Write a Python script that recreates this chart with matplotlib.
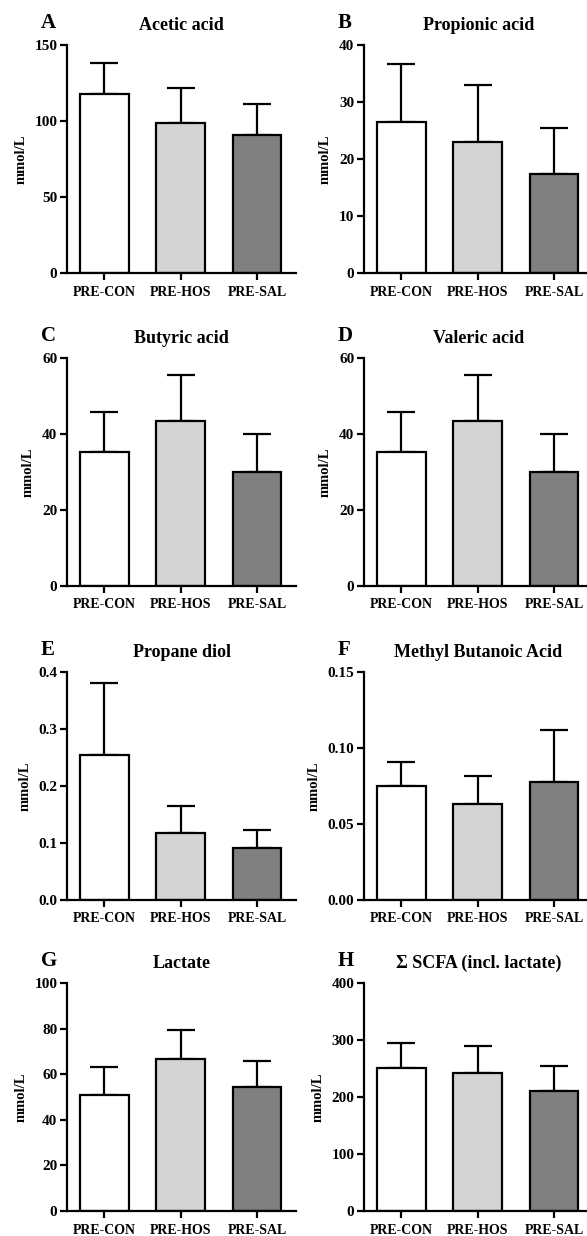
import matplotlib.pyplot as plt
import numpy as np

plt.rcParams['font.family'] = ['Liberation Serif', 'DejaVu Serif']
plt.rcParams['font.weight'] = 'bold'

groups = ['PRE-CON', 'PRE-HOS', 'PRE-SAL']
colors = ['#ffffff', '#d4d4d4', '#808080']

letters = ['A', 'B', 'C', 'D', 'E', 'F', 'G', 'H']
titles = ['Acetic acid', 'Propionic acid', 'Butyric acid', 'Valeric acid',
          'Propane diol', 'Methyl Butanoic Acid', 'Lactate', '\u03a3 SCFA (incl. lactate)']

acetic_mean = [117.5, 98.8, 90.5]
acetic_sd = [20.5, 23.0, 21.0]
propionic_mean = [26.5, 23.0, 17.3]
propionic_sd = [10.2, 9.9, 8.2]
butyric_mean = [35.2, 43.5, 30.0]
butyric_sd = [10.5, 12.0, 10.0]
valeric_mean = [35.2, 43.5, 30.0]
valeric_sd = [10.5, 12.0, 10.0]
propanediol_mean = [0.254, 0.117, 0.091]
propanediol_sd = [0.126, 0.048, 0.031]
methylbut_mean = [0.075, 0.063, 0.0775]
methylbut_sd = [0.016, 0.0185, 0.0345]
lactate_mean = [51.0, 66.8, 54.2]
lactate_sd = [12.3, 12.7, 11.6]
scfa_mean = [250.6, 241.3, 211.0]
scfa_sd = [44.7, 48.2, 43.6]

means = [acetic_mean, propionic_mean, butyric_mean, valeric_mean,
         propanediol_mean, methylbut_mean, lactate_mean, scfa_mean]
sds = [acetic_sd, propionic_sd, butyric_sd, valeric_sd,
       propanediol_sd, methylbut_sd, lactate_sd, scfa_sd]

yticks = [
    [0, 50, 100, 150],
    [0, 10, 20, 30, 40],
    [0, 20, 40, 60],
    [0, 20, 40, 60],
    [0.0, 0.1, 0.2, 0.3, 0.4],
    [0.00, 0.05, 0.10, 0.15],
    [0, 20, 40, 60, 80, 100],
    [0, 100, 200, 300, 400],
]
yfmt = ['{:.0f}', '{:.0f}', '{:.0f}', '{:.0f}', '{:.1f}', '{:.2f}', '{:.0f}', '{:.0f}']

W, H = 587, 1236
fig = plt.figure(figsize=(W / 100, H / 100), dpi=100)

col_left = [67, 364]
ax_w = 229
row_top = [45, 358, 672, 983]
ax_h = 228

x = np.arange(3)
for i in range(8):
    r, c = i // 2, i % 2
    left = col_left[c] / W
    bottom = 1 - (row_top[r] + ax_h) / H
    ax = fig.add_axes([left, bottom, ax_w / W, ax_h / H])

    ax.errorbar(x, means[i], yerr=[np.zeros(3), sds[i]], fmt='none', ecolor='black',
                elinewidth=1.6, capsize=10, capthick=1.6, zorder=1)
    ax.bar(x, means[i], width=0.64, color=colors, edgecolor='black', linewidth=1.6, zorder=2)

    ax.set_xlim(-0.49, 2.51)
    ax.set_ylim(yticks[i][0], yticks[i][-1])
    ax.set_yticks(yticks[i])
    ax.set_yticklabels([yfmt[i].format(v) for v in yticks[i]])
    ax.set_xticks(x)
    ax.set_xticklabels(groups)

    for s in ['top', 'right']:
        ax.spines[s].set_visible(False)
    for s in ['left', 'bottom']:
        ax.spines[s].set_linewidth(1.6)
    ax.tick_params(axis='both', width=1.6, length=5)
    ax.tick_params(axis='x', pad=4, labelsize=10)
    ax.tick_params(axis='y', pad=2, labelsize=11)

    ax.set_ylabel('mmol/L', fontsize=10.5, fontweight='bold', labelpad=5)
    ax.set_title(titles[i], fontsize=13, fontweight='bold', pad=11)

    fig.text((col_left[c] - 26) / W, 1 - (row_top[r] - 22) / H, letters[i],
             fontsize=15, fontweight='bold', va='center', ha='left')

fig.savefig('out.png', dpi=100)
